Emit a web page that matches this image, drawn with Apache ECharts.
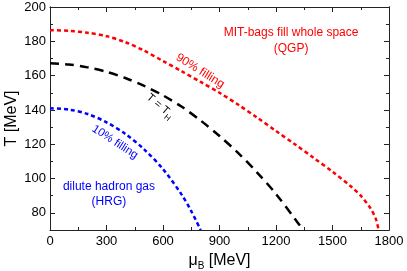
<!DOCTYPE html>
<html><head><meta charset="utf-8">
<script src="https://cdn.jsdelivr.net/npm/echarts@6/dist/echarts.min.js"></script>
<style>html,body{margin:0;padding:0;background:#fff}#c{width:407px;height:271px}</style>
</head><body><div id="c"></div>
<script>
// ---- data ----
const xTicks = [0, 300, 600, 900, 1200, 1500, 1800];
const yTicks = [80, 100, 120, 140, 160, 180, 200];
const yMinorTicks = [90, 110, 130, 150, 170, 190];

const muRed = [0, 100, 200, 300, 400, 500, 600, 700, 800, 900, 1000, 1100, 1200, 1300, 1400, 1500, 1600, 1650, 1700, 1730, 1745];
const tRed  = [186.5, 186.1, 185.0, 183.0, 179.5, 174.5, 168.5, 162.5, 156.3, 150.0, 143.0, 135.5, 127.7, 120.0, 112.0, 104.0, 95.2, 90.0, 83.0, 76.5, 70];

const muBlack = [0, 100, 200, 300, 400, 500, 600, 700, 800, 900, 1000, 1100, 1200, 1300, 1345];
const tBlack  = [167.2, 166.5, 164.8, 162.2, 158.6, 154.0, 148.5, 141.8, 133.8, 124.8, 114.8, 103.5, 91.0, 76.5, 70];

const muBlue = [0, 100, 200, 300, 400, 500, 600, 700, 750, 800];
const tBlue  = [141, 140.2, 137.6, 132.8, 126.0, 117.0, 105.5, 90.5, 81.0, 70];

const FONT = 'Arial, "Liberation Sans", sans-serif';
const zip = (a, b) => a.map((v, i) => [v, b[i]]);

const chart = echarts.init(document.getElementById('c'), null, {renderer: 'canvas'});
const axisLine = {show: true, lineStyle: {color: '#222', width: 1}};
const mkY = (pos, ticks, len, labels, name) => ({
  type: 'value', position: pos, min: 70, max: 200,
  axisLine: axisLine,
  axisTick: {show: true, inside: true, length: len, customValues: ticks, lineStyle: {color: '#222'}},
  axisLabel: labels ? {show: true, customValues: yTicks, fontSize: 13, color: '#000', fontFamily: FONT, margin: 4,
                       formatter: v => String(v)} : {show: false},
  splitLine: {show: false},
  name: name || '', nameLocation: 'middle', nameGap: 30, nameRotate: 90, nameMoveOverlap: false,
  nameTextStyle: {fontSize: 16, color: '#000', fontFamily: FONT}
});
const mkX = (pos, labels, name) => ({
  type: 'value', position: pos, min: 0, max: 1800, interval: 300,
  axisLine: axisLine,
  axisTick: {show: true, inside: true, length: 5, lineStyle: {color: '#222'}},
  minorTick: {show: true, splitNumber: 2, length: 3, lineStyle: {color: '#222'}},
  axisLabel: labels ? {show: true, fontSize: 13, color: '#000', fontFamily: FONT, margin: 5,
                       formatter: v => String(v)} : {show: false},
  splitLine: {show: false},
  name: name || '', nameLocation: 'middle', nameGap: 14,
  nameTextStyle: {fontSize: 16, color: '#000', fontFamily: FONT,
    rich: {m: {fontSize: 16, fontFamily: FONT, color: '#000', verticalAlign: 'top'},
           s: {fontSize: 10, fontFamily: FONT, color: '#000', verticalAlign: 'bottom', padding: [8, 0, 0, 0]}}}
});

chart.setOption({
  animation: false,
  grid: {left: 50, right: 18, top: 7, bottom: 41, containLabel: false, outerBoundsMode: 'none'},
  xAxis: [mkX('bottom', true, '{m|μ}{s|B}{m| [MeV]}'), mkX('top', false)],
  yAxis: [mkY('left', yTicks, 5, true, 'T [MeV]'), mkY('left', yMinorTicks, 3, false),
          mkY('right', yTicks, 5, false), mkY('right', yMinorTicks, 3, false)],
  series: [
    {type: 'line', data: zip(muRed, tRed), showSymbol: false, smooth: 0.3,
     lineStyle: {color: '#ff0000', width: 2.5, type: [4, 3]}},
    {type: 'line', data: zip(muBlack, tBlack), showSymbol: false, smooth: 0.3,
     lineStyle: {color: '#000', width: 2.5, type: [9, 6]}},
    {type: 'line', data: zip(muBlue, tBlue), showSymbol: false, smooth: 0.3,
     lineStyle: {color: '#0000ff', width: 2.5, type: [4, 3]}}
  ]
});

// ---- annotations (anchored in data coordinates) ----
const notes = [
  {at: [1280, 184.8], text: 'MIT-bags fill whole space', color: '#ff0000', size: 12, rot: 0},
  {at: [1280, 175.5], text: '(QGP)', color: '#ff0000', size: 12, rot: 0},
  {at: [797, 162.7], text: '90% filling', color: '#ff0000', size: 12, rot: 32},
  {at: [580, 141.5], text: '{m|T = T}{s|H}', color: '#000', size: 11, rot: 40},
  {at: [345, 121.3], text: '10% filling', color: '#0000ff', size: 11.5, rot: 33},
  {at: [313, 95], text: 'dilute hadron gas', color: '#0000ff', size: 12, rot: 0},
  {at: [313, 86.3], text: '(HRG)', color: '#0000ff', size: 12, rot: 0}
];
chart.setOption({
  graphic: notes.map(n => {
    const p = chart.convertToPixel({xAxisIndex: 0, yAxisIndex: 0}, n.at);
    return {
      type: 'text', x: p[0], y: p[1], rotation: -n.rot * Math.PI / 180,
      style: {text: n.text, fill: n.color, font: n.size + 'px ' + FONT,
        align: 'center', verticalAlign: 'middle',
        rich: {m: {fontSize: n.size, fontFamily: FONT, fill: n.color, verticalAlign: 'top'},
               s: {fontSize: 8, fontFamily: FONT, fill: n.color, verticalAlign: 'bottom', padding: [6, 0, 0, 0]}}}
    };
  })
});
</script></body></html>
